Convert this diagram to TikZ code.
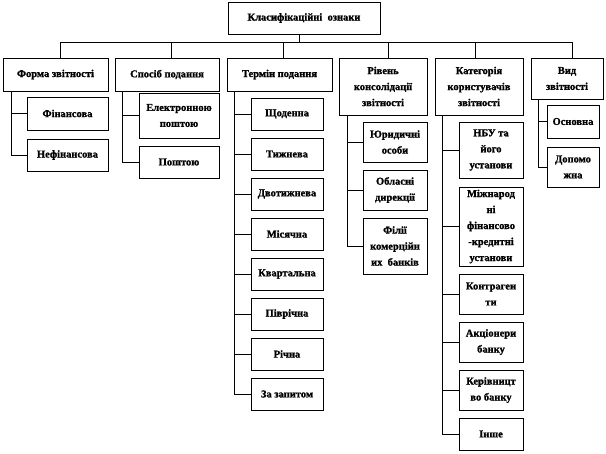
\documentclass[tikz,border=0pt]{standalone}
\usepackage{fontspec}
\setmainfont{Liberation Serif}[BoldFont={Liberation Serif Bold}, BoldFeatures={FakeBold=1.2}]
\tikzset{
  ozn/.style={draw=black, line width=0.8pt, inner sep=0pt, align=center,
    font=\bfseries\fontsize{10.5}{16}\selectfont},
  zv/.style={draw=black, line width=0.8pt}
}

\begin{document}
\begin{tikzpicture}[x=1pt, y=-1pt]
	\useasboundingbox (0,0) rectangle (606,454);
	% top level
	\node[ozn, minimum width=152pt, minimum height=32pt] (top) at (304,18) {Класифікаційні\ \ ознаки};
	\node[ozn, minimum width=105pt, minimum height=33pt] (form) at (55.5,74.5) {Форма звітності};
	\node[ozn, minimum width=104pt, minimum height=33pt] (spos) at (167,74.5) {Спосіб подання};
	\node[ozn, minimum width=105pt, minimum height=33pt] (term) at (279.5,74.5) {Термін подання};
	\node[ozn, minimum width=88pt, minimum height=57pt] (rivn) at (383,86.5) {Рівень\\консолідації\\звітності};
	\node[ozn, minimum width=88pt, minimum height=57pt] (kat) at (479,86.5) {Категорія\\користувачів\\звітності};
	\node[ozn, minimum width=72pt, minimum height=41pt] (vyd) at (567,78.5) {Вид\\звітності};

	\draw[zv] ([xshift=-5pt]top.south) -- ++(0,8) coordinate (bus);
	\draw[zv] ([xshift=4.5pt]form.north) |- (bus);
	\draw[zv] ([xshift=4pt]spos.north) |- (bus);
	\draw[zv] ([xshift=3.5pt]term.north) |- (bus);
	\draw[zv] ([xshift=5pt]rivn.north) |- (bus);
	\draw[zv] ([xshift=-4pt]kat.north) |- (bus);
	\draw[zv] ([xshift=5pt]vyd.north) |- (bus);

	% forma
	\node[ozn, minimum width=81pt, minimum height=33pt] (fin) at (67.5,113.5) {Фінансова};
	\node[ozn, minimum width=81pt, minimum height=32pt] (nefin) at (67.5,155) {Нефінансова};
	\draw[zv] ([xshift=9pt]form.south west) |- (fin.west);
	\draw[zv] ([xshift=9pt]form.south west) |- (nefin.west);

	% sposib
	\node[ozn, minimum width=80pt, minimum height=45pt] (elek) at (179,115.5) {Електронною\\поштою};
	\node[ozn, minimum width=80pt, minimum height=32pt] (posht) at (179,162) {Поштою};
	\draw[zv] ([xshift=8pt]spos.south west) |- (elek.west);
	\draw[zv] ([xshift=8pt]spos.south west) |- (posht.west);

	% termin
	\node[ozn, minimum width=72pt, minimum height=32pt] (shch) at (287,114) {Щоденна};
	\node[ozn, minimum width=72pt, minimum height=32pt] (tyzh) at (287,154) {Тижнева};
	\node[ozn, minimum width=72pt, minimum height=32pt] (dvot) at (287,194) {Двотижнева};
	\node[ozn, minimum width=72pt, minimum height=32pt] (mis) at (287,234) {Місячна};
	\node[ozn, minimum width=72pt, minimum height=32pt] (kvar) at (287,274) {Квартальна};
	\node[ozn, minimum width=72pt, minimum height=32pt] (pivr) at (287,314) {Піврічна};
	\node[ozn, minimum width=72pt, minimum height=32pt] (rich) at (287,354) {Річна};
	\node[ozn, minimum width=72pt, minimum height=32pt] (zapyt) at (287,394) {За запитом};
	\foreach \t in {shch,tyzh,dvot,mis,kvar,pivr,rich,zapyt}
		\draw[zv] ([xshift=8pt]term.south west) |- (\t.west);

	% riven
	\node[ozn, minimum width=64pt, minimum height=40pt] (yur) at (395,142) {Юридичні\\особи};
	\node[ozn, minimum width=64pt, minimum height=40pt] (obl) at (395,190) {Обласні\\дирекції};
	\node[ozn, minimum width=64pt, minimum height=56pt] (fil) at (395,246) {Філії\\комерційн\\их\ \ банків};
	\foreach \t in {yur,obl,fil}
		\draw[zv] ([xshift=9pt]rivn.south west) |- (\t.west);

	% katehoriia
	\node[ozn, minimum width=64pt, minimum height=56pt] (nbu) at (491,150) {НБУ та\\його\\установи};
	\node[ozn, minimum width=64pt, minimum height=79pt] (mizh) at (491,226.5) {Міжнарод\\ні\\фінансово\\-кредитні\\установи};
	\node[ozn, minimum width=64pt, minimum height=40pt] (kontr) at (491,294) {Контраген\\ти};
	\node[ozn, minimum width=64pt, minimum height=40pt] (akc) at (491,342) {Акціонери\\банку};
	\node[ozn, minimum width=64pt, minimum height=40pt] (keriv) at (491,390) {Керівницт\\во банку};
	\node[ozn, minimum width=64pt, minimum height=32pt] (inshe) at (491,434) {Інше};
	\foreach \t in {nbu,mizh,kontr,akc,keriv,inshe}
		\draw[zv] ([xshift=8pt]kat.south west) |- (\t.west);

	% vyd
	\node[ozn, minimum width=52pt, minimum height=33pt] (osn) at (573,121.5) {Основна};
	\node[ozn, minimum width=52pt, minimum height=40pt] (dop) at (573,167) {Допомо\\жна};
	\draw[zv] ([xshift=8pt]vyd.south west) |- (osn.west);
	\draw[zv] ([xshift=8pt]vyd.south west) |- (dop.west);
\end{tikzpicture}
\end{document}
